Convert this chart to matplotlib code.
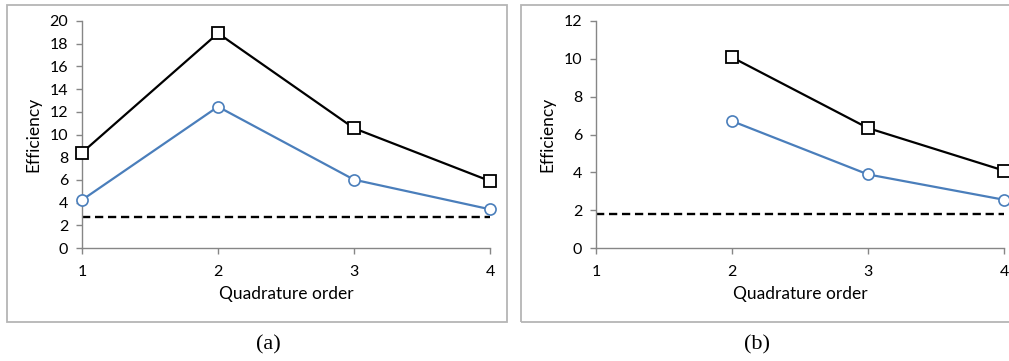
import matplotlib
matplotlib.use('Agg')
import matplotlib.pyplot as plt
from matplotlib.patches import Rectangle

# data
orders_a = [1, 2, 3, 4]
upper_a = [8.40, 18.92, 10.55, 5.90]
lower_a = [4.23, 12.45, 6.02, 3.41]
base_a = 2.76

orders_b = [2, 3, 4]
upper_b = [10.08, 6.34, 4.09]
lower_b = [6.71, 3.89, 2.55]
base_b = 1.81

x_ticks = [1, 2, 3, 4]
yticks_a = list(range(0, 21, 2))
yticks_b = list(range(0, 13, 2))

W, H = 1009, 361
BLUE = '#4a7ebb'
AXC = '#868686'
FONT = 'Lato'

plt.rcParams['font.family'] = FONT


def px_axes(fig, x0, x1, y_top, y_bot):
    return fig.add_axes([x0 / W, (H - y_bot) / H, (x1 - x0) / W, (y_bot - y_top) / H])


def panel(ax, xs, up, lo, base, yticks, ymax):
    ax.plot(xs, up, color='black', lw=1.6, marker='s', ms=8.5, mfc='white',
            mec='black', mew=1.3, clip_on=False, zorder=4)
    ax.plot(xs, lo, color=BLUE, lw=1.6, marker='o', ms=8, mfc='white',
            mec=BLUE, mew=1.2, clip_on=False, zorder=3)
    ax.plot([1, 4], [base, base], color='black', lw=1.7, ls=(0, (3.5, 2)),
            clip_on=False, zorder=2)
    ax.set_xlim(1, 4)
    ax.set_ylim(0, ymax)
    ax.set_xticks(x_ticks)
    ax.set_yticks(yticks)
    for s in ['top', 'right']:
        ax.spines[s].set_visible(False)
    for s in ['left', 'bottom']:
        ax.spines[s].set_color(AXC)
        ax.spines[s].set_linewidth(1.0)
    ax.tick_params(axis='both', direction='out', length=4, width=1.0,
                   color=AXC, labelsize=11.5, labelcolor='black')
    ax.tick_params(axis='x', pad=8)
    ax.tick_params(axis='y', pad=6)
    ax.set_xlabel('Quadrature order', fontsize=12.5, labelpad=5)
    ax.set_ylabel('Efficiency', fontsize=12.5)
    ax.set_facecolor('none')


fig = plt.figure(figsize=(W / 100, H / 100), dpi=100)

# panel frames
for (x0, x1) in [(7, 507), (521, 1012)]:
    fig.patches.append(Rectangle((x0 / W, (H - 322) / H), (x1 - x0) / W, (322 - 5) / H,
                                 transform=fig.transFigure, fill=False,
                                 ec='#b5b5b5', lw=1.3))

ax1 = px_axes(fig, 82, 490, 21, 248)
panel(ax1, orders_a, upper_a, lower_a, base_a, yticks_a, 20)
ax1.yaxis.set_label_coords(-0.10, 0.5)

ax2 = px_axes(fig, 596, 1004, 21, 248)
panel(ax2, orders_b, upper_b, lower_b, base_b, yticks_b, 12)
ax2.yaxis.set_label_coords(-0.10, 0.5)

fig.text(268 / W, 1 - 345 / H, '(a)', ha='center', va='center',
         fontsize=16, family='Liberation Serif')
fig.text(757 / W, 1 - 345 / H, '(b)', ha='center', va='center',
         fontsize=16, family='Liberation Serif')

fig.savefig('out.png', dpi=100)
